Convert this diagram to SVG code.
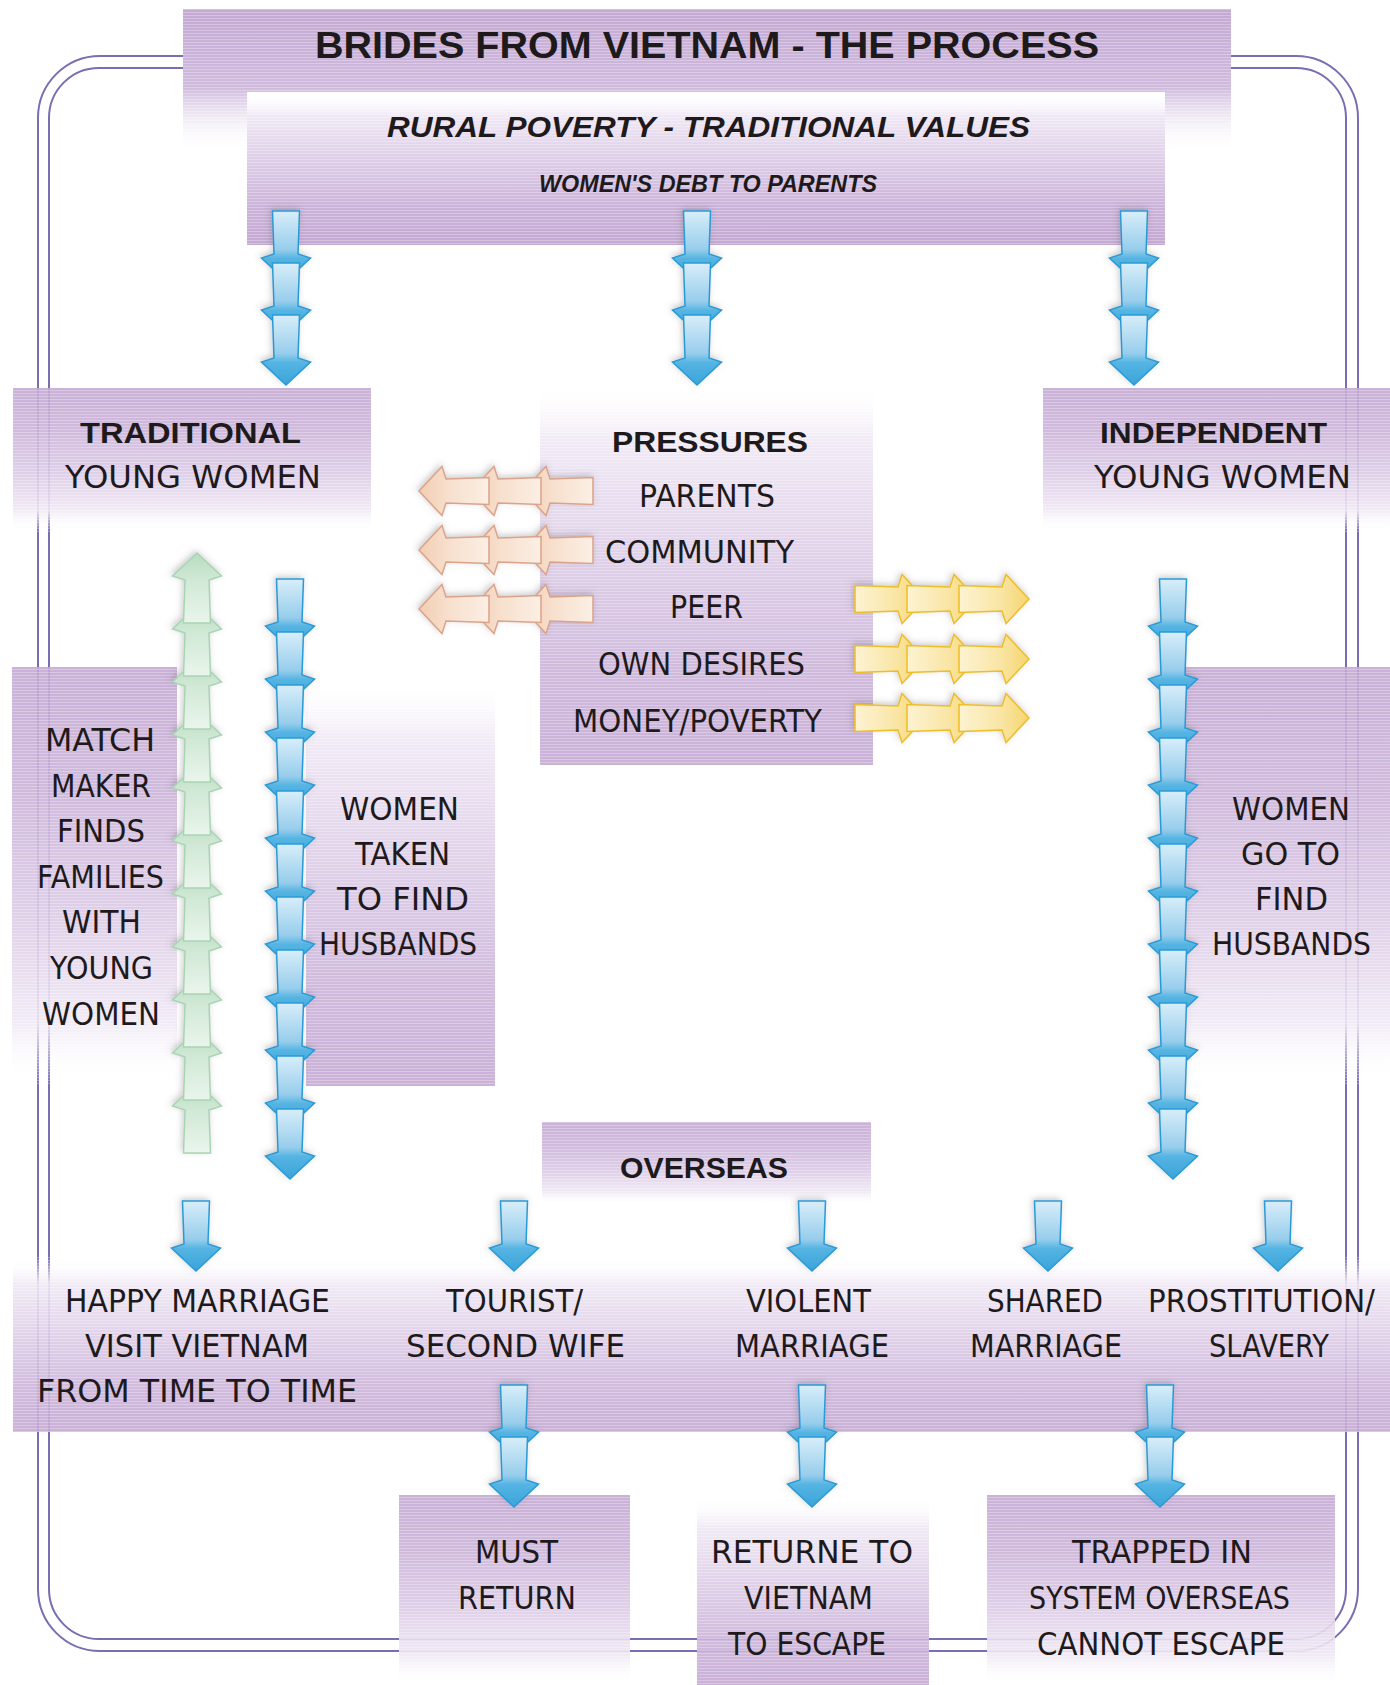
<svg xmlns="http://www.w3.org/2000/svg" xmlns:xlink="http://www.w3.org/1999/xlink" width="1390" height="1685" viewBox="0 0 1390 1685">
<defs>
<style>
.t{font-family:"DejaVu Sans","Liberation Sans",sans-serif;font-size:31.5px;fill:#1e1a1c}
.b{font-family:"Liberation Sans","DejaVu Sans",sans-serif;font-size:29.5px;font-weight:bold;fill:#1e1a1c}
.bi{font-family:"Liberation Sans","DejaVu Sans",sans-serif;font-weight:bold;font-style:italic;fill:#1e1a1c}
.border{fill:none;stroke:#7a6db2;stroke-width:2}
.box{opacity:0.9}
.blue{fill:url(#gBlue);stroke:#2a9ad6;stroke-width:1.5}
.green{fill:url(#gGreen);stroke:#a9d4b4;stroke-width:1.5}
.orange{fill:url(#gOrange);stroke:#dba38b;stroke-width:1.5}
.yellow{fill:url(#gYellow);stroke:#eebd2a;stroke-width:1.5}
</style>
<linearGradient id="gDown" x1="0" y1="0" x2="0" y2="1">
<stop offset="0" stop-color="#c4a9d3"/>
<stop offset="0.3" stop-color="#cbb3d9"/>
<stop offset="0.6" stop-color="#dccbe6"/>
<stop offset="0.85" stop-color="#f0e9f5"/>
<stop offset="1" stop-color="#ffffff" stop-opacity="0"/>
</linearGradient>
<linearGradient id="gUp" x1="0" y1="0" x2="0" y2="1">
<stop offset="0" stop-color="#ffffff" stop-opacity="0"/>
<stop offset="0.15" stop-color="#f0e9f5"/>
<stop offset="0.45" stop-color="#ddcde7"/>
<stop offset="0.75" stop-color="#cbb3d9"/>
<stop offset="1" stop-color="#c4a9d3"/>
</linearGradient>
<linearGradient id="gTitle" x1="0" y1="0" x2="0" y2="1">
<stop offset="0" stop-color="#c4a9d3"/>
<stop offset="0.55" stop-color="#d0bbdd"/>
<stop offset="1" stop-color="#ffffff" stop-opacity="0"/>
</linearGradient>
<linearGradient id="gBlue" x1="0" y1="0" x2="0" y2="1">
<stop offset="0" stop-color="#d8eef9"/>
<stop offset="0.55" stop-color="#97cdec"/>
<stop offset="0.68" stop-color="#55b4e2"/>
<stop offset="1" stop-color="#3aa4da"/>
</linearGradient>
<linearGradient id="gGreen" x1="0" y1="0" x2="0" y2="1">
<stop offset="0" stop-color="#eaf5ec"/>
<stop offset="0.6" stop-color="#d1e9d6"/>
<stop offset="1" stop-color="#b8dcc1"/>
</linearGradient>
<linearGradient id="gOrange" x1="0" y1="0" x2="0" y2="1">
<stop offset="0" stop-color="#fbefe4"/>
<stop offset="0.6" stop-color="#f7dfcc"/>
<stop offset="1" stop-color="#f2cdb2"/>
</linearGradient>
<linearGradient id="gYellow" x1="0" y1="0" x2="0" y2="1">
<stop offset="0" stop-color="#fdf3d2"/>
<stop offset="0.6" stop-color="#f9e5a4"/>
<stop offset="1" stop-color="#f6d56e"/>
</linearGradient>
<pattern id="stripe" width="10" height="3" patternUnits="userSpaceOnUse">
<rect width="10" height="1" fill="#ffffff" opacity="0.28"/>
</pattern>
<filter id="sh" x="-30%" y="-30%" width="160%" height="160%">
<feDropShadow dx="-1.5" dy="-2" stdDeviation="3" flood-color="#555555" flood-opacity="0.3"/>
</filter>
<path id="seg" d="M-13.5,0H13.5L12,43L24.5,47L0,70L-24.5,47L-12,43Z"/>
</defs>

<rect width="1390" height="1685" fill="#ffffff"/>

<g id="border">
<rect class="border" x="38" y="56" width="1320" height="1595" rx="62" ry="62"/>
<rect class="border" x="49" y="68" width="1297" height="1571" rx="50" ry="50"/>
</g>

<g id="nodes">
<g id="title">
<rect x="183" y="9" width="1048" height="144" fill="url(#gTitle)"/>
<rect x="183" y="9" width="1048" height="144" fill="url(#stripe)"/>
<text class="b" x="315" y="58" font-size="36" textLength="784" lengthAdjust="spacingAndGlyphs" style="font-size:36px">BRIDES FROM VIETNAM - THE PROCESS</text>
</g>
<g id="rural">
<rect x="247" y="92" width="918" height="153" fill="#ffffff"/>
<rect x="247" y="92" width="918" height="153" fill="url(#gUp)"/>
<rect x="247" y="92" width="918" height="153" fill="url(#stripe)"/>
<text class="bi" x="387" y="137" font-size="30" textLength="643" lengthAdjust="spacingAndGlyphs">RURAL POVERTY - TRADITIONAL VALUES</text>
<text class="bi" x="539" y="192" font-size="23" textLength="338" lengthAdjust="spacingAndGlyphs">WOMEN'S DEBT TO PARENTS</text>
</g>
<g id="traditional">
<rect class="box" x="13" y="388" width="358" height="144" fill="url(#gDown)"/>
<rect x="13" y="388" width="358" height="144" fill="url(#stripe)"/>
<text class="b" x="80" y="443" textLength="221" lengthAdjust="spacingAndGlyphs">TRADITIONAL</text>
<text class="t" x="65" y="488" textLength="256" lengthAdjust="spacingAndGlyphs">YOUNG WOMEN</text>
</g>
<g id="pressures">
<rect class="box" x="540" y="380" width="333" height="385" fill="url(#gUp)"/>
<rect x="540" y="380" width="333" height="385" fill="url(#stripe)"/>
<text class="b" x="612" y="452" textLength="196" lengthAdjust="spacingAndGlyphs">PRESSURES</text>
<text class="t" x="639" y="507" textLength="136" lengthAdjust="spacingAndGlyphs">PARENTS</text>
<text class="t" x="605" y="563" textLength="189" lengthAdjust="spacingAndGlyphs">COMMUNITY</text>
<text class="t" x="670" y="618" textLength="73" lengthAdjust="spacingAndGlyphs">PEER</text>
<text class="t" x="598" y="675" textLength="207" lengthAdjust="spacingAndGlyphs">OWN DESIRES</text>
<text class="t" x="573" y="732" textLength="249" lengthAdjust="spacingAndGlyphs">MONEY/POVERTY</text>
</g>
<g id="independent">
<rect class="box" x="1043" y="388" width="347" height="144" fill="url(#gDown)"/>
<rect x="1043" y="388" width="347" height="144" fill="url(#stripe)"/>
<text class="b" x="1100" y="443" textLength="227" lengthAdjust="spacingAndGlyphs">INDEPENDENT</text>
<text class="t" x="1094" y="488" textLength="257" lengthAdjust="spacingAndGlyphs">YOUNG WOMEN</text>
</g>
<g id="matchmaker">
<rect class="box" x="12" y="667" width="165" height="418" fill="url(#gDown)"/>
<rect x="12" y="667" width="165" height="418" fill="url(#stripe)"/>
<text class="t" x="45" y="751" textLength="110" lengthAdjust="spacingAndGlyphs">MATCH</text>
<text class="t" x="51" y="797" textLength="100" lengthAdjust="spacingAndGlyphs">MAKER</text>
<text class="t" x="57" y="842" textLength="88" lengthAdjust="spacingAndGlyphs">FINDS</text>
<text class="t" x="37" y="888" textLength="127" lengthAdjust="spacingAndGlyphs">FAMILIES</text>
<text class="t" x="62" y="933" textLength="79" lengthAdjust="spacingAndGlyphs">WITH</text>
<text class="t" x="50" y="979" textLength="103" lengthAdjust="spacingAndGlyphs">YOUNG</text>
<text class="t" x="42" y="1025" textLength="118" lengthAdjust="spacingAndGlyphs">WOMEN</text>
</g>
<g id="taken">
<rect class="box" x="306" y="675" width="189" height="411" fill="url(#gUp)"/>
<rect x="306" y="675" width="189" height="411" fill="url(#stripe)"/>
<text class="t" x="340" y="820" textLength="119" lengthAdjust="spacingAndGlyphs">WOMEN</text>
<text class="t" x="355" y="865" textLength="95" lengthAdjust="spacingAndGlyphs">TAKEN</text>
<text class="t" x="337" y="910" textLength="132" lengthAdjust="spacingAndGlyphs">TO FIND</text>
<text class="t" x="319" y="955" textLength="158" lengthAdjust="spacingAndGlyphs">HUSBANDS</text>
</g>
<g id="gofind">
<rect class="box" x="1185" y="667" width="205" height="418" fill="url(#gDown)"/>
<rect x="1185" y="667" width="205" height="418" fill="url(#stripe)"/>
<text class="t" x="1232" y="820" textLength="118" lengthAdjust="spacingAndGlyphs">WOMEN</text>
<text class="t" x="1241" y="865" textLength="99" lengthAdjust="spacingAndGlyphs">GO TO</text>
<text class="t" x="1255" y="910" textLength="73" lengthAdjust="spacingAndGlyphs">FIND</text>
<text class="t" x="1212" y="955" textLength="159" lengthAdjust="spacingAndGlyphs">HUSBANDS</text>
</g>
<g id="overseas">
<rect class="box" x="542" y="1122" width="329" height="83" fill="url(#gDown)"/>
<rect x="542" y="1122" width="329" height="83" fill="url(#stripe)"/>
<text class="b" x="620" y="1178" textLength="168" lengthAdjust="spacingAndGlyphs">OVERSEAS</text>
</g>
<g id="outcomes">
<rect class="box" x="13" y="1257" width="1377" height="175" fill="url(#gUp)"/>
<rect x="13" y="1257" width="1377" height="175" fill="url(#stripe)"/>
</g>
<g id="happy">
<text class="t" x="65" y="1312" textLength="265" lengthAdjust="spacingAndGlyphs">HAPPY MARRIAGE</text>
<text class="t" x="85" y="1357" textLength="224" lengthAdjust="spacingAndGlyphs">VISIT VIETNAM</text>
<text class="t" x="37" y="1402" textLength="320" lengthAdjust="spacingAndGlyphs">FROM TIME TO TIME</text>
</g>
<g id="tourist">
<text class="t" x="446" y="1312" textLength="137" lengthAdjust="spacingAndGlyphs">TOURIST/</text>
<text class="t" x="406" y="1357" textLength="219" lengthAdjust="spacingAndGlyphs">SECOND WIFE</text>
</g>
<g id="violent">
<text class="t" x="746" y="1312" textLength="125" lengthAdjust="spacingAndGlyphs">VIOLENT</text>
<text class="t" x="735" y="1357" textLength="154" lengthAdjust="spacingAndGlyphs">MARRIAGE</text>
</g>
<g id="shared">
<text class="t" x="987" y="1312" textLength="116" lengthAdjust="spacingAndGlyphs">SHARED</text>
<text class="t" x="970" y="1357" textLength="152" lengthAdjust="spacingAndGlyphs">MARRIAGE</text>
</g>
<g id="prostitution">
<text class="t" x="1148" y="1312" textLength="227" lengthAdjust="spacingAndGlyphs">PROSTITUTION/</text>
<text class="t" x="1209" y="1357" textLength="120" lengthAdjust="spacingAndGlyphs">SLAVERY</text>
</g>
<g id="must">
<rect class="box" x="399" y="1495" width="231" height="190" fill="url(#gDown)"/>
<rect x="399" y="1495" width="231" height="190" fill="url(#stripe)"/>
<text class="t" x="475" y="1563" textLength="83" lengthAdjust="spacingAndGlyphs">MUST</text>
<text class="t" x="458" y="1609" textLength="118" lengthAdjust="spacingAndGlyphs">RETURN</text>
</g>
<g id="returne">
<rect class="box" x="697" y="1497" width="232" height="188" fill="url(#gUp)"/>
<rect x="697" y="1497" width="232" height="188" fill="url(#stripe)"/>
<text class="t" x="711" y="1563" textLength="202" lengthAdjust="spacingAndGlyphs">RETURNE TO</text>
<text class="t" x="744" y="1609" textLength="129" lengthAdjust="spacingAndGlyphs">VIETNAM</text>
<text class="t" x="728" y="1655" textLength="158" lengthAdjust="spacingAndGlyphs">TO ESCAPE</text>
</g>
<g id="trapped">
<rect class="box" x="987" y="1495" width="348" height="190" fill="url(#gDown)"/>
<rect x="987" y="1495" width="348" height="190" fill="url(#stripe)"/>
<text class="t" x="1072" y="1563" textLength="180" lengthAdjust="spacingAndGlyphs">TRAPPED IN</text>
<text class="t" x="1029" y="1609" textLength="261" lengthAdjust="spacingAndGlyphs">SYSTEM OVERSEAS</text>
<text class="t" x="1037" y="1655" textLength="248" lengthAdjust="spacingAndGlyphs">CANNOT ESCAPE</text>
</g>
</g>

<g id="connectors">
<g class="blue" filter="url(#sh)">
<use xlink:href="#seg" href="#seg" x="286" y="211"/><use xlink:href="#seg" href="#seg" x="286" y="263"/><use xlink:href="#seg" href="#seg" x="286" y="315"/>
</g>
<g class="blue" filter="url(#sh)">
<use xlink:href="#seg" href="#seg" x="697" y="211"/><use xlink:href="#seg" href="#seg" x="697" y="263"/><use xlink:href="#seg" href="#seg" x="697" y="315"/>
</g>
<g class="blue" filter="url(#sh)">
<use xlink:href="#seg" href="#seg" x="1134" y="211"/><use xlink:href="#seg" href="#seg" x="1134" y="263"/><use xlink:href="#seg" href="#seg" x="1134" y="315"/>
</g>
<g class="orange" filter="url(#sh)">
<use xlink:href="#seg" href="#seg" transform="translate(593,491) rotate(90)"/><use xlink:href="#seg" href="#seg" transform="translate(541,491) rotate(90)"/><use xlink:href="#seg" href="#seg" transform="translate(489,491) rotate(90)"/>
<use xlink:href="#seg" href="#seg" transform="translate(593,550) rotate(90)"/><use xlink:href="#seg" href="#seg" transform="translate(541,550) rotate(90)"/><use xlink:href="#seg" href="#seg" transform="translate(489,550) rotate(90)"/>
<use xlink:href="#seg" href="#seg" transform="translate(593,609) rotate(90)"/><use xlink:href="#seg" href="#seg" transform="translate(541,609) rotate(90)"/><use xlink:href="#seg" href="#seg" transform="translate(489,609) rotate(90)"/>
</g>
<g class="yellow" filter="url(#sh)">
<use xlink:href="#seg" href="#seg" transform="translate(855,599) rotate(-90)"/><use xlink:href="#seg" href="#seg" transform="translate(907,599) rotate(-90)"/><use xlink:href="#seg" href="#seg" transform="translate(959,599) rotate(-90)"/>
<use xlink:href="#seg" href="#seg" transform="translate(855,659) rotate(-90)"/><use xlink:href="#seg" href="#seg" transform="translate(907,659) rotate(-90)"/><use xlink:href="#seg" href="#seg" transform="translate(959,659) rotate(-90)"/>
<use xlink:href="#seg" href="#seg" transform="translate(855,718) rotate(-90)"/><use xlink:href="#seg" href="#seg" transform="translate(907,718) rotate(-90)"/><use xlink:href="#seg" href="#seg" transform="translate(959,718) rotate(-90)"/>
</g>
<g class="green" filter="url(#sh)">
<use xlink:href="#seg" href="#seg" transform="translate(197,1153) rotate(180)"/>
<use xlink:href="#seg" href="#seg" transform="translate(197,1100) rotate(180)"/>
<use xlink:href="#seg" href="#seg" transform="translate(197,1047) rotate(180)"/>
<use xlink:href="#seg" href="#seg" transform="translate(197,994) rotate(180)"/>
<use xlink:href="#seg" href="#seg" transform="translate(197,941) rotate(180)"/>
<use xlink:href="#seg" href="#seg" transform="translate(197,888) rotate(180)"/>
<use xlink:href="#seg" href="#seg" transform="translate(197,835) rotate(180)"/>
<use xlink:href="#seg" href="#seg" transform="translate(197,782) rotate(180)"/>
<use xlink:href="#seg" href="#seg" transform="translate(197,729) rotate(180)"/>
<use xlink:href="#seg" href="#seg" transform="translate(197,676) rotate(180)"/>
<use xlink:href="#seg" href="#seg" transform="translate(197,623) rotate(180)"/>
</g>
<g class="blue" filter="url(#sh)">
<use xlink:href="#seg" href="#seg" x="290" y="579"/><use xlink:href="#seg" href="#seg" x="290" y="632"/><use xlink:href="#seg" href="#seg" x="290" y="685"/><use xlink:href="#seg" href="#seg" x="290" y="738"/><use xlink:href="#seg" href="#seg" x="290" y="791"/><use xlink:href="#seg" href="#seg" x="290" y="844"/><use xlink:href="#seg" href="#seg" x="290" y="897"/><use xlink:href="#seg" href="#seg" x="290" y="950"/><use xlink:href="#seg" href="#seg" x="290" y="1003"/><use xlink:href="#seg" href="#seg" x="290" y="1056"/><use xlink:href="#seg" href="#seg" x="290" y="1109"/>
</g>
<g class="blue" filter="url(#sh)">
<use xlink:href="#seg" href="#seg" x="1173" y="579"/><use xlink:href="#seg" href="#seg" x="1173" y="632"/><use xlink:href="#seg" href="#seg" x="1173" y="685"/><use xlink:href="#seg" href="#seg" x="1173" y="738"/><use xlink:href="#seg" href="#seg" x="1173" y="791"/><use xlink:href="#seg" href="#seg" x="1173" y="844"/><use xlink:href="#seg" href="#seg" x="1173" y="897"/><use xlink:href="#seg" href="#seg" x="1173" y="950"/><use xlink:href="#seg" href="#seg" x="1173" y="1003"/><use xlink:href="#seg" href="#seg" x="1173" y="1056"/><use xlink:href="#seg" href="#seg" x="1173" y="1109"/>
</g>
<g class="blue" filter="url(#sh)">
<use xlink:href="#seg" href="#seg" x="196" y="1201"/>
<use xlink:href="#seg" href="#seg" x="514" y="1201"/>
<use xlink:href="#seg" href="#seg" x="812" y="1201"/>
<use xlink:href="#seg" href="#seg" x="1048" y="1201"/>
<use xlink:href="#seg" href="#seg" x="1278" y="1201"/>
</g>
<g class="blue" filter="url(#sh)">
<use xlink:href="#seg" href="#seg" x="514" y="1385"/><use xlink:href="#seg" href="#seg" x="514" y="1437"/>
</g>
<g class="blue" filter="url(#sh)">
<use xlink:href="#seg" href="#seg" x="812" y="1385"/><use xlink:href="#seg" href="#seg" x="812" y="1437"/>
</g>
<g class="blue" filter="url(#sh)">
<use xlink:href="#seg" href="#seg" x="1160" y="1385"/><use xlink:href="#seg" href="#seg" x="1160" y="1437"/>
</g>
</g>
</svg>
